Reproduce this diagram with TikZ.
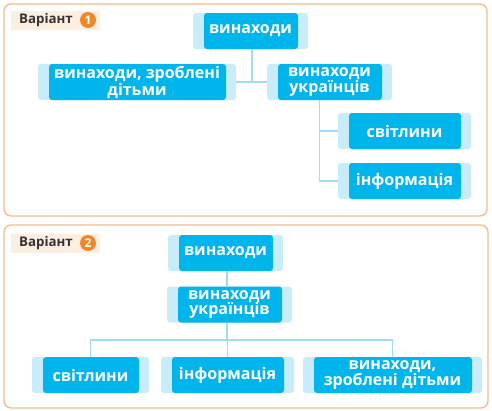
\documentclass[tikz,border=0pt]{standalone}
\usepackage{fontspec}
\setmainfont{Open Sans}
\newfontfamily\boxfont{Open Sans}[UprightFont=* Bold]
\definecolor{darkb}{RGB}{0,180,236}
\definecolor{lightb}{RGB}{200,236,250}
\definecolor{lineb}{RGB}{160,221,244}
\definecolor{frameo}{RGB}{245,186,140}
\definecolor{labbg}{RGB}{253,238,226}
\definecolor{circo}{RGB}{240,136,40}
\definecolor{labtxt}{RGB}{51,51,51}
\begin{document}
\begin{tikzpicture}[x=1pt,y=-1pt,
  box/.style={fill=lightb, rounded corners=3pt, minimum height=36pt, inner sep=0pt,
    text=white, align=center, font=\boxfont\fontsize{16}{15.5}\selectfont,
    path picture={\fill[darkb] ([xshift=11pt]path picture bounding box.north west) rectangle ([xshift=-10pt]path picture bounding box.south east);}},
  conn/.style={draw=lineb, line width=1.3pt},
  panel/.style={draw=frameo, line width=1.3pt, rounded corners=7pt, fill=white},
  labbox/.style={fill=labbg, minimum width=89pt, minimum height=19pt, inner sep=0pt},
  labtext/.style={text=labtxt, font=\boxfont\fontsize{13.3}{14}\selectfont, inner sep=0pt, anchor=west},
  num/.style={circle, fill=circo, minimum size=16pt, inner sep=0pt, text=white, font=\boxfont\fontsize{12}{12}\selectfont}
]
\useasboundingbox (0,0) rectangle (492,410);
% ---------- panel 1 ----------
\path[panel] (4,4) rectangle (487,216);
\node[labbox] (lab1) at (55.5,20.5) {};
\node[labtext] (lab1t) at (19,20) {Варіант};
\node[num] (n1) at (88,20) {1};
\node[box, minimum width=115pt] (a) at (250.5,31) {винаходи};
\node[box, minimum width=198pt] (b) at (137,82) {винаходи, зроблені\\дітьми};
\node[box, minimum width=125pt] (c) at (329.5,82) {винаходи\\українців};
\node[box, minimum width=133pt] (d) at (404.5,131) {світлини};
\node[box, minimum width=133pt] (e) at (404.5,181) {інформація};
\coordinate (cs) at ([xshift=-10pt]c.south);
\draw[conn] (b.east) -- (c.west);
\draw[conn] ([xshift=1.5pt]a.south) -- ([xshift=1.5pt]a.south |- b.east);
\draw[conn] (cs) |- (e.west);
\draw[conn] (cs |- d.west) -- (d.west);
% ---------- panel 2 ----------
\path[panel] (4,225) rectangle (488,408);
\node[labbox] (lab2) at (55.5,243.5) {};
\node[labtext] (lab2t) at (19,243) {Варіант};
\node[num] (n2) at (88,243) {2};
\node[box, minimum width=115pt] (f) at (225.5,253) {винаходи};
\node[box, minimum width=125pt] (g) at (229.5,304.5) {винаходи\\українців};
\node[box, minimum width=117pt] (h) at (90.5,375) {світлини};
\node[box, minimum width=133pt] (i) at (227.5,375) {інформація};
\node[box, minimum width=179pt] (j) at (392.5,375) {винаходи,\\зроблені дітьми};
\coordinate (gs) at ([xshift=-2.5pt]g.south);
\coordinate (bus) at (227,340);
\draw[conn] ([xshift=1.5pt]f.south) -- ([xshift=1.5pt]f.south |- g.north);
\draw[conn] (gs) -- (gs |- bus);
\draw[conn] (h.north) |- (bus) -| (j.north);
\draw[conn] (i.north) -- (i.north |- bus);
\end{tikzpicture}
\end{document}
